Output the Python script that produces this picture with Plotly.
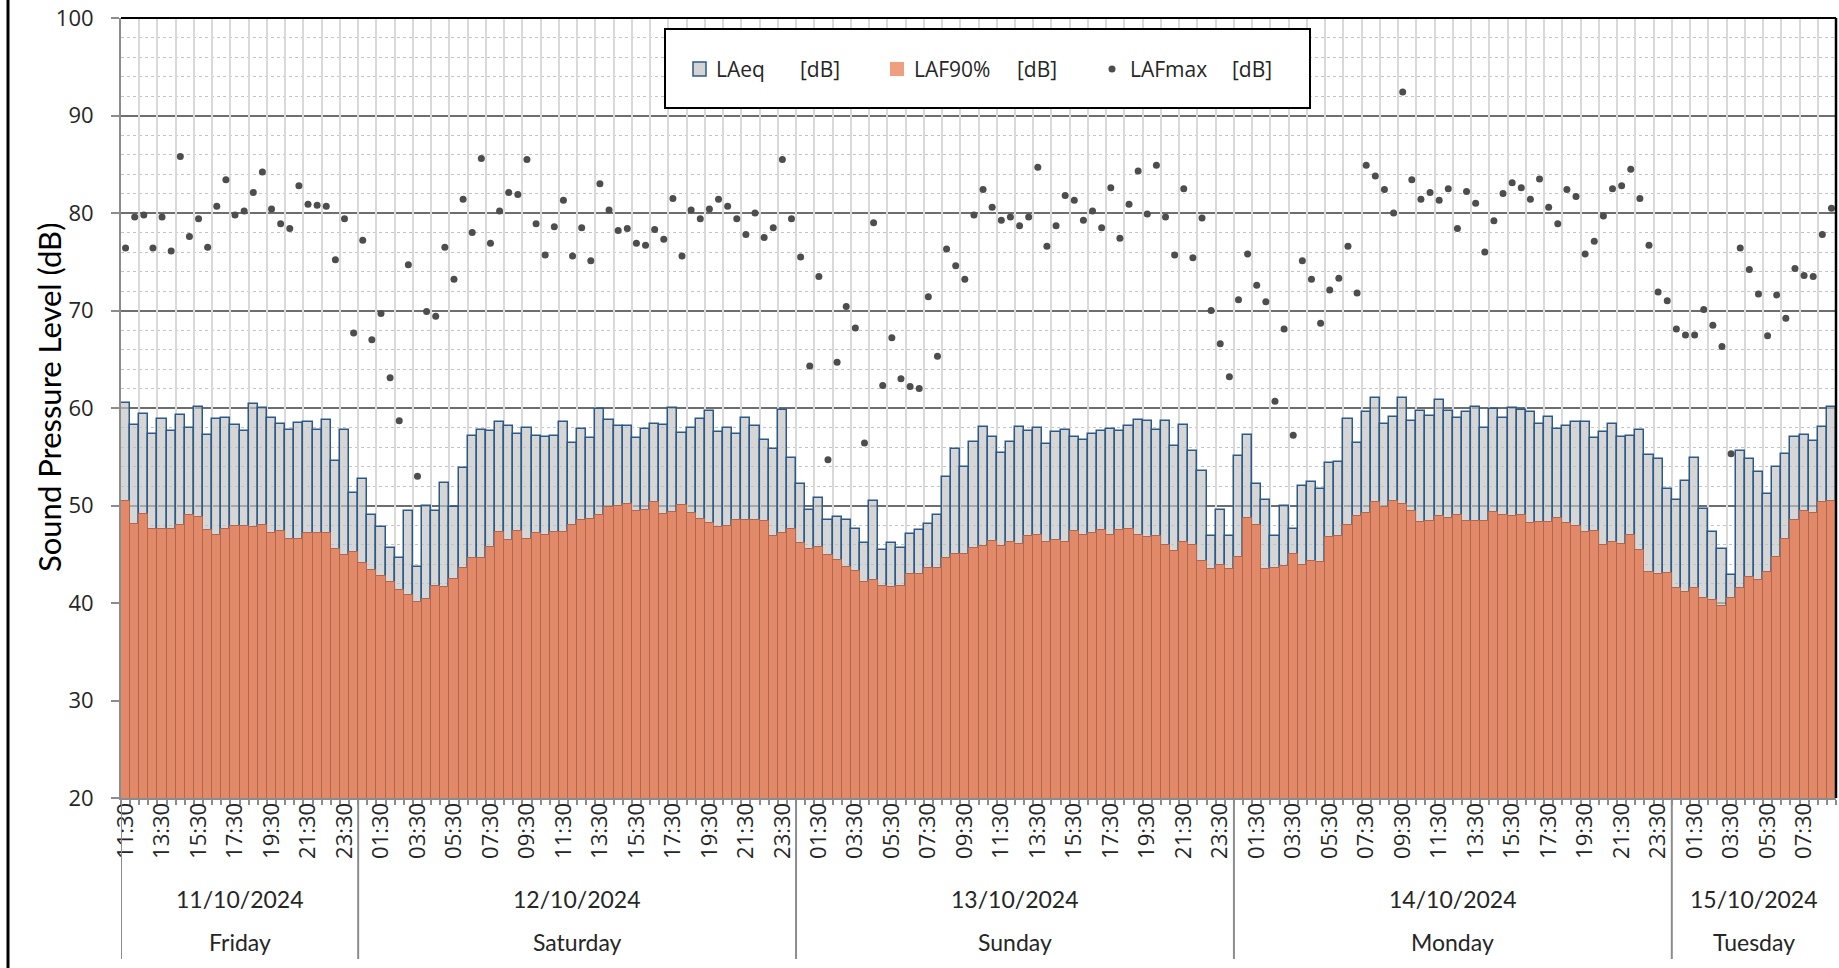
import plotly.graph_objects as go
import pandas as pd

# ---------------- data ----------------
LAEQ = [
    # Friday 11/10 (11:30 .. 24:00)
    60.5, 58.3, 59.4, 57.3, 58.9, 57.6, 59.3, 57.9, 60.1, 57.2, 58.9, 59.0, 58.3,
    57.6, 60.4, 60.0, 59.0, 58.4, 57.7, 58.5, 58.6, 57.7, 58.8, 54.6, 57.7, 51.3,
    # Saturday 12/10
    52.7, 49.0, 47.8, 45.6, 44.6, 49.4, 43.7, 50.0, 49.4, 52.3, 49.8, 53.8, 57.1,
    57.7, 57.6, 58.6, 58.2, 57.3, 58.0, 57.1, 57.0, 57.1, 58.6, 56.4, 57.8, 56.9,
    59.9, 58.8, 58.2, 58.2, 56.9, 57.8, 58.4, 58.3, 60.0, 57.4, 57.9, 58.9, 59.7,
    57.5, 58.0, 57.3, 59.0, 58.2, 56.7, 55.75, 59.8, 54.85,
    # Sunday 13/10
    52.2, 49.55, 50.8, 48.5, 48.85, 48.5, 47.6, 46.2, 50.45, 45.4, 46.2, 45.6, 47.05,
    47.5, 48.1, 49.0, 52.9, 55.75, 53.9, 56.5, 58.1, 57.0, 55.4, 56.5, 58.1, 57.6,
    58.0, 56.3, 57.5, 57.7, 57.0, 56.7, 57.3, 57.6, 57.8, 57.6, 58.2, 58.8, 58.7,
    57.7, 58.7, 56.1, 58.3, 55.55, 53.5, 46.9, 49.55, 46.85,
    # Monday 14/10
    55.1, 57.2, 52.2, 50.6, 46.85, 50.0, 47.6, 52.0, 52.4, 51.7, 54.4, 54.5, 58.9,
    56.4, 59.6, 61.0, 58.4, 59.1, 61.0, 58.7, 59.7, 59.2, 60.8, 59.7, 59.0, 59.6,
    60.1, 58.0, 59.9, 59.0, 60.0, 59.8, 59.6, 58.4, 59.1, 57.8, 58.2, 58.6, 58.6,
    56.9, 57.5, 58.4, 57.0, 57.1, 57.7, 55.2, 54.8, 51.7,
    # Tuesday 15/10
    50.55, 52.5, 54.85, 49.65, 47.3, 45.5, 42.9, 55.55, 54.75, 53.4, 51.15, 53.9,
    55.3, 57.0, 57.2, 56.6, 58.1, 60.1,
]

LAF90 = [
    50.5, 48.1, 49.1, 47.6, 47.6, 47.6, 48.0, 49.0, 48.8, 47.5, 47.0, 47.6, 47.9,
    47.9, 47.8, 48.0, 47.2, 47.4, 46.6, 46.6, 47.2, 47.2, 47.2, 45.5, 44.9, 45.2,
    44.1, 43.4, 42.8, 42.2, 41.3, 40.85, 40.1, 40.4, 41.75, 41.6, 42.5, 43.6, 44.6,
    44.6, 45.7, 47.3, 46.5, 47.4, 46.6, 47.2, 47.0, 47.3, 47.3, 48.0, 48.5, 48.6,
    49.0, 49.8, 49.9, 50.2, 49.4, 49.55, 50.35, 49.1, 49.3, 50.1, 49.2, 48.6, 48.2,
    47.8, 47.9, 48.5, 48.5, 48.5, 48.4, 46.85, 47.2, 47.6,
    46.15, 45.5, 45.7, 44.9, 44.4, 43.7, 43.3, 42.2, 42.4, 41.75, 41.6, 41.75, 43.0,
    43.0, 43.6, 43.6, 44.6, 45.0, 45.0, 45.6, 45.8, 46.4, 45.8, 46.3, 46.1, 46.85,
    46.95, 46.3, 46.5, 46.3, 47.4, 46.95, 47.15, 47.5, 47.0, 47.5, 47.6, 47.0, 46.75,
    46.85, 45.95, 45.35, 46.3, 45.95, 44.35, 43.45, 43.9, 43.5,
    44.7, 48.7, 47.95, 43.45, 43.6, 43.8, 45.0, 43.9, 44.35, 44.25, 46.75, 46.85, 47.95,
    48.9, 49.2, 50.35, 49.85, 50.5, 50.15, 49.45, 48.3, 48.45, 48.9, 48.7, 49.0, 48.45,
    48.45, 48.45, 49.35, 49.0, 48.9, 49.0, 48.2, 48.3, 48.3, 48.7, 48.2, 47.9, 47.3,
    47.4, 45.95, 46.3, 46.1, 47.0, 45.4, 43.2, 43.0, 43.1,
    41.5, 41.1, 41.5, 40.5, 40.3, 39.7, 40.55, 41.5, 42.65, 42.4, 43.2, 44.7,
    46.6, 48.55, 49.45, 49.2, 50.35, 50.45,
]

LAFMAX = [
    76.4, 79.6, 79.8, 76.4, 79.6, 76.1, 85.8, 77.6, 79.4, 76.5, 80.7, 83.4, 79.8,
    80.2, 82.1, 84.2, 80.4, 78.9, 78.4, 82.8, 80.9, 80.8, 80.7, 75.2, 79.4, 67.7,
    77.2, 67.0, 69.7, 63.1, 58.7, 74.7, 53.0, 69.9, 69.4, 76.5, 73.2, 81.4, 78.0,
    85.6, 76.9, 80.2, 82.1, 81.9, 85.5, 78.9, 75.7, 78.6, 81.3, 75.6, 78.5, 75.1,
    83.0, 80.3, 78.2, 78.4, 76.9, 76.7, 78.3, 77.3, 81.5, 75.6, 80.3, 79.4, 80.4,
    81.4, 80.7, 79.4, 77.8, 80.0, 77.5, 78.5, 85.5, 79.4,
    75.5, 64.3, 73.5, 54.7, 64.7, 70.4, 68.2, 56.4, 79.0, 62.3, 67.2, 63.0, 62.2,
    62.0, 71.4, 65.3, 76.3, 74.6, 73.2, 79.8, 82.4, 80.6, 79.25, 79.6, 78.7, 79.6,
    84.7, 76.6, 78.7, 81.8, 81.3, 79.25, 80.2, 78.5, 82.6, 77.4, 80.9, 84.3, 79.9,
    84.9, 79.6, 75.7, 82.5, 75.4, 79.5, 70.0, 66.6, 63.2,
    71.1, 75.8, 72.6, 70.9, 60.7, 68.1, 57.2, 75.1, 73.2, 68.7, 72.1, 73.3, 76.6,
    71.8, 84.9, 83.8, 82.4, 80.0, 92.4, 83.4, 81.4, 82.1, 81.3, 82.5, 78.4, 82.2,
    81.0, 76.0, 79.2, 82.0, 83.1, 82.6, 81.4, 83.5, 80.6, 78.9, 82.4, 81.7, 75.8,
    77.1, 79.7, 82.5, 82.8, 84.5, 81.5, 76.7, 71.9, 71.0,
    68.1, 67.5, 67.5, 70.1, 68.5, 66.3, 55.3, 76.4, 74.2, 71.7, 67.4, 71.6,
    69.2, 74.3, 73.6, 73.5, 77.8, 80.5,
]

DATES = ["11/10/2024", "12/10/2024", "13/10/2024", "14/10/2024", "15/10/2024"]
DAYS = ["Friday", "Saturday", "Sunday", "Monday", "Tuesday"]
GROUP_SIZES = [26, 48, 48, 48, 18]
TIMES = list(pd.date_range("2024-10-11 11:30", periods=len(LAEQ), freq="30min").strftime("%H:%M"))
LABEL_EVERY = 4
SERIES_NAMES = ["LAeq", "LAF90%", "LAFmax"]
UNIT = "[dB]"
Y_TITLE = "Sound Pressure Level (dB)"

# ---------------- layout geometry ----------------
W, H = 1839, 968
ML, MR, MT, MB = 121, 3, 18, 170
PW, PH = W - ML - MR, H - MT - MB


def pxx(px):
    return (px - ML) / PW


def pxy(py):
    return (H - MB - py) / PH


FONT_TICK = "Open Sans, DejaVu Sans, sans-serif"
FONT_CAT = "Lato, Liberation Sans, sans-serif"
TXT = "#262626"

xs = list(range(len(LAEQ)))
tickvals = xs[::LABEL_EVERY]
ticktext = TIMES[::LABEL_EVERY]

fig = go.Figure()
fig.add_trace(go.Bar(
    x=xs, y=LAEQ, name=SERIES_NAMES[0], width=1,
    marker=dict(color="rgba(195,195,195,0.68)", line=dict(color="#2b5a88", width=1.5)),
    showlegend=False,
))
fig.add_trace(go.Bar(
    x=xs, y=LAF90, name=SERIES_NAMES[1], width=1,
    marker=dict(color="#e2896a", line=dict(color="#b2664c", width=1)),
    showlegend=False,
))
fig.add_trace(go.Scatter(
    x=xs, y=LAFMAX, name=SERIES_NAMES[2], mode="markers", xaxis="x2",
    marker=dict(color="#4d4d4d", size=7),
    showlegend=False,
))

shapes = []
annotations = []

# day group dividers and category labels
start = 0
for date, day, n in zip(DATES, DAYS, GROUP_SIZES):
    end = start + n
    center = (start + end - 1) / 2
    annotations.append(dict(x=center, y=pxy(899), xref="x", yref="paper", text=date,
                            yanchor="middle", showarrow=False,
                            font=dict(family=FONT_CAT, size=23, color=TXT)))
    annotations.append(dict(x=center, y=pxy(942), xref="x", yref="paper", text=day,
                            yanchor="middle", showarrow=False,
                            font=dict(family=FONT_CAT, size=23, color=TXT)))
    shapes.append(dict(type="line", xref="x", yref="paper", x0=start - 0.5, x1=start - 0.5,
                       y0=0, y1=pxy(959), line=dict(color="#8c8c8c", width=2)))
    start = end

# y-axis title
annotations.append(dict(x=pxx(49), y=pxy(398), xref="paper", yref="paper", text=Y_TITLE,
                        textangle=-90, xanchor="center", yanchor="middle", showarrow=False,
                        font=dict(family="Lato, sans-serif", size=31, color="#000000")))

# plot-area frame (top & right dark) and outer chart frame (left)
shapes.append(dict(type="line", xref="paper", yref="paper", x0=0, x1=1, y0=1, y1=1,
                   line=dict(color="#000000", width=2)))
shapes.append(dict(type="line", xref="paper", yref="paper", x0=1, x1=1, y0=0, y1=1,
                   line=dict(color="#000000", width=2.5)))
shapes.append(dict(type="line", xref="paper", yref="paper", x0=pxx(8), x1=pxx(8), y0=pxy(968), y1=pxy(0),
                   line=dict(color="#000000", width=3)))

# custom legend box
shapes.append(dict(type="rect", xref="paper", yref="paper", x0=pxx(665), x1=pxx(1310),
                   y0=pxy(108), y1=pxy(29), fillcolor="white", line=dict(color="black", width=2),
                   layer="above"))
ly = pxy(69)
shapes.append(dict(type="rect", xref="paper", yref="paper", x0=pxx(693), x1=pxx(706),
                   y0=pxy(76), y1=pxy(62), fillcolor="#d4d4d4", line=dict(color="#2b5a88", width=1.5),
                   layer="above"))
shapes.append(dict(type="rect", xref="paper", yref="paper", x0=pxx(890), x1=pxx(904),
                   y0=pxy(76), y1=pxy(62), fillcolor="#f09f7e", line=dict(width=0),
                   layer="above"))
shapes.append(dict(type="circle", xref="paper", yref="paper", xsizemode="pixel", ysizemode="pixel",
                   xanchor=pxx(1112), yanchor=ly, x0=-3.5, x1=3.5, y0=-3.5, y1=3.5,
                   fillcolor="#4d4d4d", line=dict(width=0), layer="above"))
leg_font = dict(family=FONT_TICK, size=21, color=TXT)
for name, xpos, upos in zip(SERIES_NAMES, [714, 912, 1128], [798, 1015, 1230]):
    annotations.append(dict(x=pxx(xpos), y=ly, xref="paper", yref="paper", text=name,
                            xanchor="left", yanchor="middle", showarrow=False, font=leg_font))
    annotations.append(dict(x=pxx(upos), y=ly, xref="paper", yref="paper", text=UNIT,
                            xanchor="left", yanchor="middle", showarrow=False, font=leg_font))

fig.update_layout(
    width=W, height=H,
    margin=dict(l=ML, r=MR, t=MT, b=MB, autoexpand=False),
    paper_bgcolor="white", plot_bgcolor="white",
    barmode="overlay", bargap=0,
    showlegend=False,
    shapes=shapes, annotations=annotations,
    xaxis=dict(
        automargin=False,
        range=[-0.5, len(xs) - 0.5], tickmode="array", tickvals=tickvals, ticktext=ticktext,
        tickangle=-90, ticks="", ticklabelstandoff=-6,
        tickfont=dict(family=FONT_TICK, size=22, color=TXT),
        showgrid=False, zeroline=False,
        showline=True, linecolor="#8c8c8c", linewidth=2,
        minor=dict(ticks="outside", ticklen=5, tickcolor="#8c8c8c", tickwidth=1.5,
                   tickmode="linear", tick0=-0.5, dtick=1, showgrid=False),
    ),
    xaxis2=dict(
        automargin=False,
        overlaying="x", matches="x", side="bottom",
        tickmode="linear", tick0=-0.5, dtick=2,
        showgrid=True, gridcolor="#d9d9d9", gridwidth=2,
        showticklabels=False, ticks="", zeroline=False, showline=False,
    ),
    yaxis=dict(
        automargin=False,
        range=[20, 100], tickmode="linear", tick0=20, dtick=10,
        ticks="outside", ticklen=8, tickcolor="#8c8c8c", tickwidth=2,
        ticklabelstandoff=13,
        tickfont=dict(family=FONT_TICK, size=22, color=TXT),
        showgrid=True, gridcolor="#6e6e6e", gridwidth=2, zeroline=False,
        showline=True, linecolor="#8c8c8c", linewidth=2,
        minor=dict(dtick=2, showgrid=True, gridcolor="#c4c4c4", griddash="dot", gridwidth=1),
    ),
)

fig.write_html(
    "out.html",
    config={"displayModeBar": False},
    post_script="document.body.style.margin='0px';document.body.style.overflow='hidden';",
)
